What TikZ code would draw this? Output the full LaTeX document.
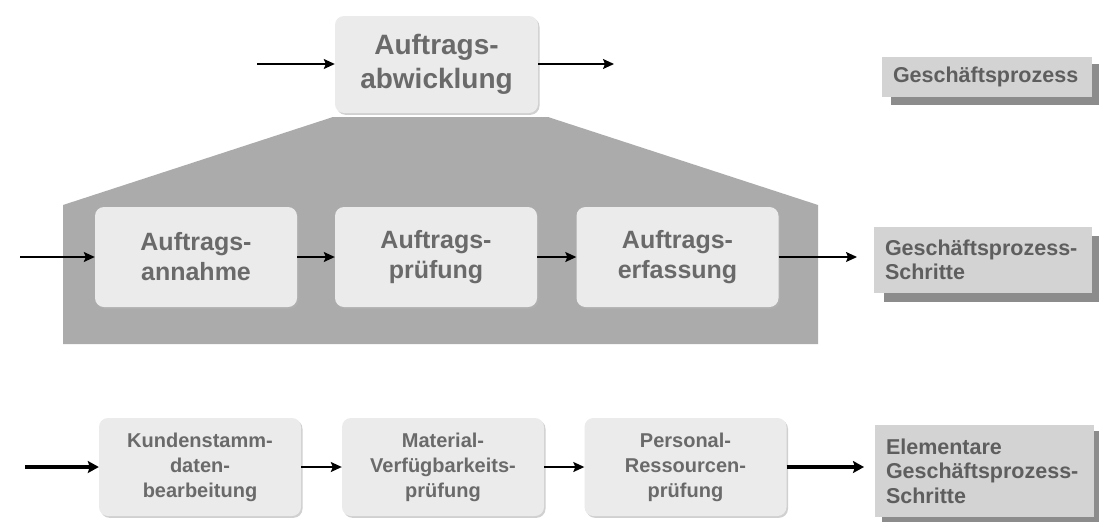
\documentclass[tikz,border=0pt]{standalone}
\usepackage{fontspec}
\setmainfont{Liberation Sans}
\usetikzlibrary{arrows.meta,shadows}
\definecolor{boxfill}{HTML}{EBEBEB}
\definecolor{trapfill}{HTML}{ABABAB}
\definecolor{txtgray}{HTML}{6A6A6A}
\definecolor{lblfill}{HTML}{D3D3D3}
\definecolor{lblshadow}{HTML}{8C8C8C}
\definecolor{lbltxt}{HTML}{5E5E5E}
\tikzset{
  proc/.style={fill=boxfill, draw=none, rounded corners=9pt, align=center,
    text=txtgray, inner sep=0pt,
    drop shadow={shadow xshift=1.5pt, shadow yshift=-1.8pt, fill=black!30, opacity=0.6}},
  lbl/.style={fill=lblfill, draw=none, align=left, text=lbltxt, inner xsep=11pt, inner ysep=0pt,
    font=\bfseries\fontsize{21.5}{24.5}\selectfont},
  arr/.style={-{Stealth[length=11pt,width=10pt,inset=2pt]}, line width=1.4pt, black},
  thickarr/.style={-{Stealth[length=11pt,width=12pt,inset=2pt]}, line width=3.3pt, black},
}
\begin{document}
\begin{tikzpicture}[x=1pt,y=-1pt]
\useasboundingbox (0,0) rectangle (1099,522);
\fill[white] (0,0) rectangle (1099,522);
% trapezoid
\fill[trapfill] (63,344) -- (63,205) -- (333,117) -- (548,117) -- (818,205) -- (818,344) -- cycle;
% top
\node[proc, minimum width=203pt, minimum height=97pt, font=\bfseries\fontsize{28}{34}\selectfont]
  (top) at (436.5,64.5) {Auftrags-\\abwicklung};
\coordinate (tin) at (257,64);
\coordinate (tout) at (614,64);
\draw[arr] (tin) -- (top.west |- tin);
\draw[arr] (top.east |- tout) -- (tout);
% middle
\tikzset{mid/.style={proc, minimum width=202pt, minimum height=100pt, font=\bfseries\fontsize{25}{30}\selectfont}}
\node[mid] (m1) at (196,257) {Auftrags-\\annahme};
\node[mid] (m2) at (436,257) {Auftrags-\\prüfung};
\node[mid] (m3) at (677.5,257) {Auftrags-\\erfassung};
\coordinate (min) at (20,257);
\coordinate (mout) at (857,257);
\draw[arr] (min) -- (m1.west);
\draw[arr] (m1.east) -- (m2.west);
\draw[arr] (m2.east) -- (m3.west);
\draw[arr] (m3.east) -- (mout);
% bottom
\tikzset{bot/.style={proc, minimum width=202pt, minimum height=98pt, font=\bfseries\fontsize{20}{25}\selectfont}}
\node[bot] (b1) at (200,467) {Kundenstamm-\\daten-\\bearbeitung};
\node[bot] (b2) at (443,467) {Material-\\Verfügbarkeits-\\prüfung};
\node[bot] (b3) at (685.5,467) {Personal-\\Ressourcen-\\prüfung};
\coordinate (bin) at (25,467);
\coordinate (bout) at (864,467);
\draw[thickarr] (bin) -- (b1.west);
\draw[arr] (b1.east) -- (b2.west);
\draw[arr] (b2.east) -- (b3.west);
\draw[thickarr] (b3.east) -- (bout);
% labels
\fill[lblshadow] (891,64) rectangle (1099,105);
\node[lbl, minimum width=210pt, minimum height=40pt, text width=188pt] (l1) at (987,77) {Geschäftsprozess};
\fill[lblshadow] (884,236) rectangle (1099,302);
\node[lbl, minimum width=218pt, minimum height=66pt, text width=196pt] (l2) at (983,260) {Geschäftsprozess-\\Schritte};
\fill[lblshadow] (882,431) rectangle (1099,522);
\node[lbl, minimum width=219pt, minimum height=92pt, text width=197pt] (l3) at (984.5,471) {Elementare\\Geschäftsprozess-\\Schritte};
\end{tikzpicture}
\end{document}
